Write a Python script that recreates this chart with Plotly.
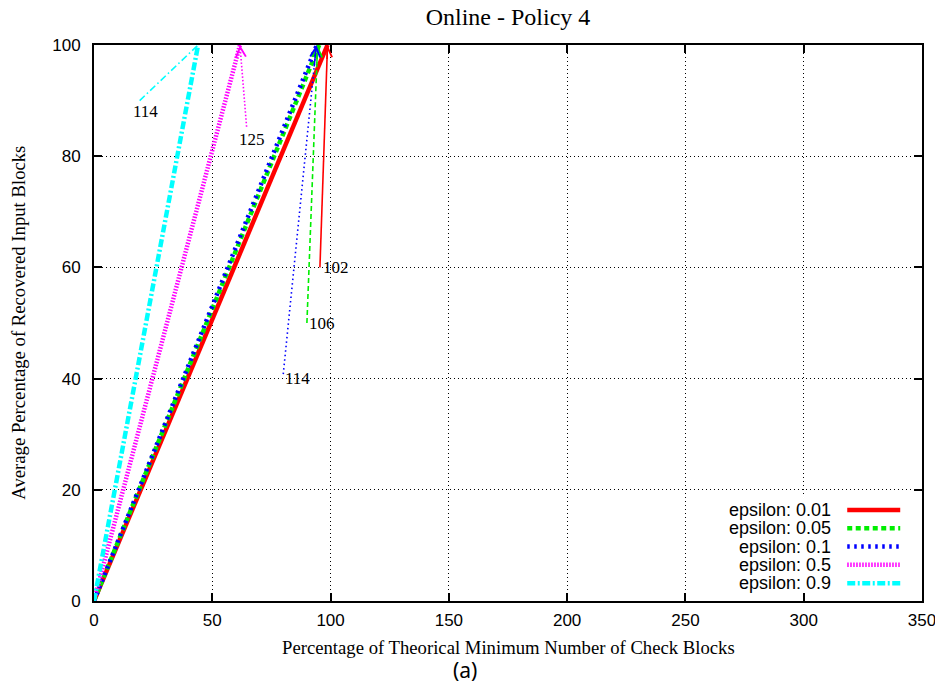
import plotly.graph_objects as go

# ---------------- data ----------------
series_names = ["epsilon: 0.01", "epsilon: 0.05", "epsilon: 0.1", "epsilon: 0.5", "epsilon: 0.9"]
series_x = [[0, 98.7], [0, 95.2], [0, 94.2], [0, 61.7], [0, 44.0]]
series_y = [[0, 100], [0, 100], [0, 100], [0, 100], [0, 100]]

arrow_start_x = [95.5, 90.0, 80.0, 64.5, 19.3]
arrow_start_y = [60.0, 50.0, 40.8, 85.3, 90.0]
arrow_end_x = [98.7, 94.5, 94.0, 61.7, 44.0]
arrow_end_y = [100, 100, 100, 100, 100]

label_text = ["102", "106", "114", "125", "114"]
label_x = [96.0, 90.0, 80.0, 60.4, 15.5]
label_y = [60.0, 50.0, 40.0, 83.0, 88.0]

x_ticks = [0, 50, 100, 150, 200, 250, 300, 350]
y_ticks = [0, 20, 40, 60, 80, 100]

# ---------------- styles ----------------
colors = ["#ff0000", "#00ee00", "#0000ff", "#ff00ff", "#00ffff"]
thick_dash = ["solid", "5px,3.5px", "2.5px,4.5px", "1.5px,1.5px", "8px,2.5px,2px,2.5px"]
thin_dash = ["solid", "5px,3px", "1.5px,3px", "1.5px,2px", "7px,3px,1.5px,3px"]
SERIF = "Liberation Serif"
SANS = "Liberation Sans"

fig = go.Figure()

for i, name in enumerate(series_names):
    fig.add_trace(go.Scatter(
        x=series_x[i], y=series_y[i], mode="lines", name=name,
        line=dict(color=colors[i], width=4.5, dash=thick_dash[i]),
        showlegend=False, hoverinfo="skip"))

# thin arrow shafts
for i in range(len(arrow_start_x)):
    fig.add_trace(go.Scatter(
        x=[arrow_start_x[i], arrow_end_x[i]], y=[arrow_start_y[i], arrow_end_y[i]],
        mode="lines", line=dict(color=colors[i], width=1.6, dash=thin_dash[i]),
        showlegend=False, hoverinfo="skip"))

annotations = []
# arrowheads (short shaft near the tip)
frac = 0.93
for i in range(len(arrow_start_x)):
    ax = arrow_start_x[i] + frac * (arrow_end_x[i] - arrow_start_x[i])
    ay = arrow_start_y[i] + frac * (arrow_end_y[i] - arrow_start_y[i])
    annotations.append(dict(
        x=arrow_end_x[i], y=arrow_end_y[i], ax=ax, ay=ay,
        xref="x", yref="y", axref="x", ayref="y",
        showarrow=True, arrowhead=5, arrowsize=1.3, arrowwidth=1.5,
        arrowcolor=colors[i], text=""))
    annotations.append(dict(
        x=label_x[i], y=label_y[i], xref="x", yref="y", text=label_text[i],
        showarrow=False, xanchor="left", yanchor="middle",
        font=dict(family=SERIF, size=17, color="black")))

# custom gnuplot-style legend (text right aligned, sample on the right)
leg_top = 0.1637
leg_step = 0.0329
shapes = [dict(type="rect", xref="paper", yref="paper", x0=0.756, x1=0.992,
               y0=0.018, y1=0.187, fillcolor="white", line=dict(width=0),
               layer="above")]
for i, name in enumerate(series_names):
    yy = leg_top - i * leg_step
    annotations.append(dict(
        x=0.893, y=yy, xref="paper", yref="paper", text=name, showarrow=False,
        xanchor="right", yanchor="middle",
        font=dict(family=SANS, size=18, color="black")))
    shapes.append(dict(
        type="line", xref="paper", yref="paper", x0=0.9097, x1=0.9737, y0=yy, y1=yy,
        line=dict(color=colors[i], width=4.5, dash=thick_dash[i]), layer="above"))

# axis titles and caption
annotations.append(dict(
    x=0.5, y=-0.0845, xref="paper", yref="paper", showarrow=False,
    text="Percentage of Theorical Minimum Number of Check Blocks",
    xanchor="center", yanchor="middle",
    font=dict(family=SERIF, size=18.7, color="black")))
annotations.append(dict(
    x=-0.0922, y=0.5, xref="paper", yref="paper", showarrow=False,
    text="Average Percentage of Recovered Input Blocks", textangle=-90,
    xanchor="center", yanchor="middle",
    font=dict(family=SERIF, size=18.7, color="black")))
annotations.append(dict(
    x=0.448, y=-0.124, xref="paper", yref="paper", showarrow=False,
    text="(a)", xanchor="center", yanchor="middle",
    font=dict(family="Noto Sans", size=21, color="black")))

axis_common = dict(
    showline=True, mirror="ticks", linecolor="black", linewidth=2,
    ticks="inside", ticklen=8, tickwidth=1.5, tickcolor="black",
    showgrid=True, gridcolor="black", gridwidth=1, griddash="1px,3px",
    zeroline=False, automargin=False,
    tickfont=dict(family=SANS, size=17, color="black"),
)

# the page body adds an 8px offset; margins compensate for it
fig.update_layout(
    width=935, height=681,
    margin=dict(l=86, r=21, t=37, b=88, autoexpand=False),
    paper_bgcolor="white", plot_bgcolor="white",
    title=dict(text="Online - Policy 4", x=0.5, xref="paper", xanchor="center",
               y=1 - 9 / 681, yref="container", yanchor="middle",
               font=dict(family=SERIF, size=24, color="black")),
    xaxis=dict(range=[0, 350], tickvals=x_ticks, ticklabelstandoff=3, **axis_common),
    yaxis=dict(range=[0, 100], tickvals=y_ticks, ticklabelstandoff=8, **axis_common),
    annotations=annotations, shapes=shapes, showlegend=False,
)

fig.write_html("out.html")
